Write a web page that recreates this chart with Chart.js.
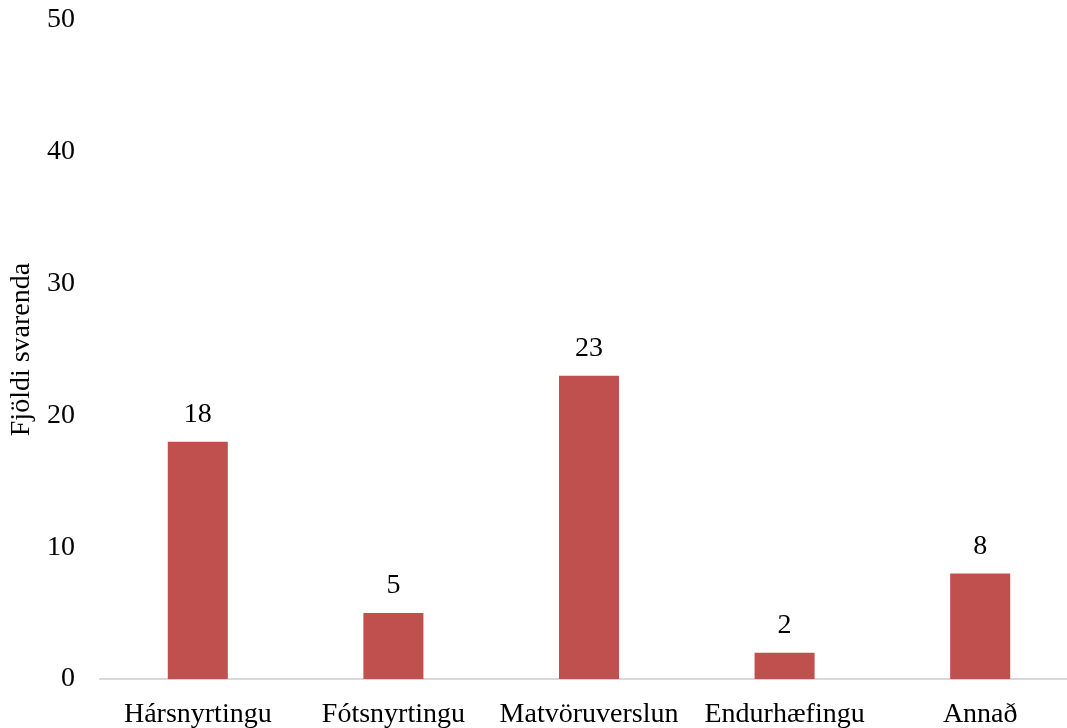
<!DOCTYPE html>
<html>
<head>
<meta charset="utf-8">
<script src="https://cdn.jsdelivr.net/npm/chart.js@4/dist/chart.umd.min.js"></script>
<style>
  html, body { margin: 0; padding: 0; background: #fff; overflow: hidden; }
</style>
</head>
<body>
<canvas id="chart" width="1078" height="728"></canvas>
<script>
const categories = ["Hársnyrtingu", "Fótsnyrtingu", "Matvöruverslun", "Endurhæfingu", "Annað"]
const values = [18, 5, 23, 2, 8]
const y_ticks = [0, 10, 20, 30, 40, 50]
const y_title = "Fjöldi svarenda"

const bar_color = "#C0504D"  //red
const text_color = "#000000"
const axis_color = "#D9D9D9"  //light grey
const font_family = "'Liberation Serif', 'DejaVu Serif', serif"
const font_size = 28

// numbers above the bars
const valueLabels = {
    id: 'valueLabels',
    afterDatasetsDraw(chart) {
        const ctx = chart.ctx
        const meta = chart.getDatasetMeta(0)
        ctx.save()
        ctx.font = font_size + "px " + font_family
        ctx.fillStyle = text_color
        ctx.textAlign = 'center'
        ctx.textBaseline = 'alphabetic'
        meta.data.forEach((bar, i) => {
            ctx.fillText(String(values[i]), bar.x, bar.y - 20)
        })
        ctx.restore()
    }
}

new Chart(document.getElementById('chart'), {
    type: 'bar',
    data: {
        labels: categories,
        datasets: [{
            data: values,
            backgroundColor: bar_color,
            borderWidth: 0,
            barPercentage: 1,
            categoryPercentage: 0.307,
        }]
    },
    options: {
        responsive: false,
        animation: false,
        layout: {
            padding: 0
        },
        plugins: {
            legend: { display: false },
            tooltip: { enabled: false },
        },
        scales: {
            x: {
                grid: { display: false, drawTicks: false },
                border: { display: true, color: axis_color, width: 2 },
                ticks: {
                    color: text_color,
                    font: { family: font_family, size: font_size },
                    padding: 19,
                    maxRotation: 0,
                    autoSkip: false,
                },
                afterFit(scale) { scale.height = 49 }
            },
            y: {
                min: 0,
                max: 50,
                afterBuildTicks(scale) { scale.ticks = y_ticks.map(v => ({ value: v })) },
                grid: { display: false, drawTicks: false },
                border: { display: false },
                ticks: {
                    color: text_color,
                    font: { family: font_family, size: font_size },
                    padding: 25,
                },
                title: {
                    display: true,
                    text: y_title,
                    color: text_color,
                    font: { family: font_family, size: font_size },
                    padding: { top: 5, bottom: 0 },
                },
                afterFit(scale) {
                    scale.width = 100
                    scale.paddingTop = 20
                    scale.paddingBottom = 0
                }
            }
        }
    },
    plugins: [valueLabels]
});
</script>
</body>
</html>
